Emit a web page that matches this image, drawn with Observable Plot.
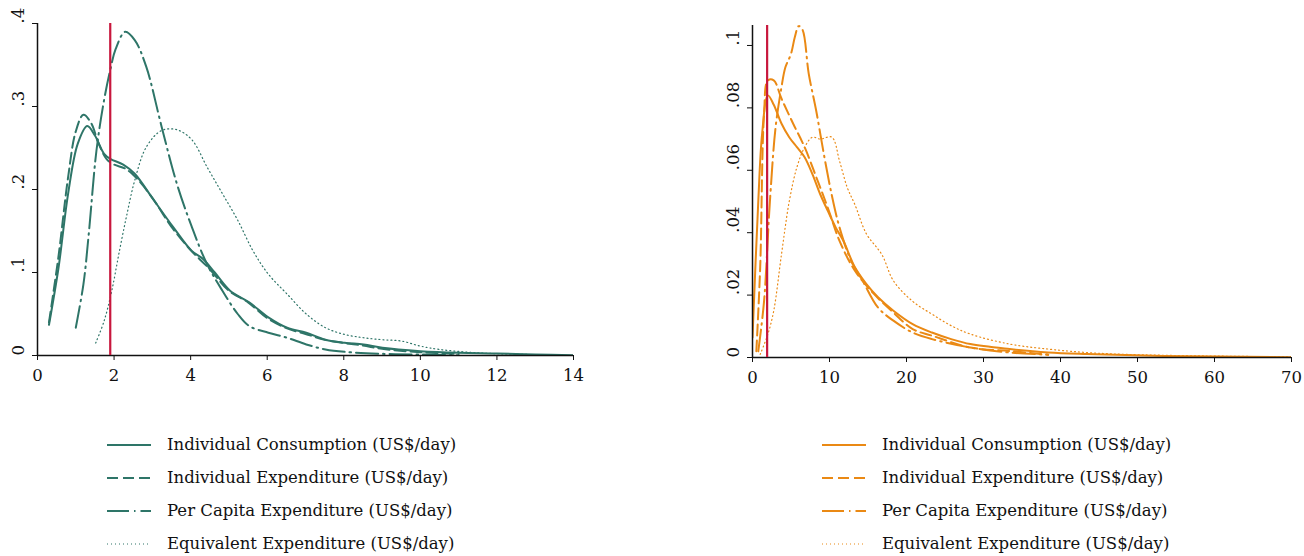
<!DOCTYPE html>
<html><head><meta charset="utf-8">
<script src="https://cdn.jsdelivr.net/npm/d3@7"></script>
<script src="https://cdn.jsdelivr.net/npm/@observablehq/plot@0.6"></script>
<style>
body{margin:0;background:#fff;width:1304px;height:556px;overflow:hidden;font-family:"DejaVu Serif",serif;position:relative}
#left{position:absolute;left:0;top:0;}
#right{position:absolute;left:652px;top:0;}
.legend{position:absolute;font-size:16.5px;color:#111;font-family:"DejaVu Serif",serif}
.row{height:33px;display:flex;align-items:center}
.row svg{margin-right:16px;flex:none}
</style></head><body>
<div id="left"></div><div id="right"></div>
<div class="legend" id="legL" style="left:107px;top:428px"></div>
<div class="legend" id="legR" style="left:822px;top:428px"></div>
<script>
// ---- labels ----
const seriesNames = [
  "Individual Consumption (US$/day)",
  "Individual Expenditure (US$/day)",
  "Per Capita Expenditure (US$/day)",
  "Equivalent Expenditure (US$/day)"
];
const povertyLine = 1.9;

// ---- left panel (teal) ----
const xTicksL = [0, 2, 4, 6, 8, 10, 12, 14];
const yTicksL = [0, 0.1, 0.2, 0.3, 0.4];
const L_cons_x = [0.3, 0.55, 0.8, 1.05, 1.3, 1.5, 1.74, 1.9, 2.24, 2.54, 3.04, 3.54, 4.03, 4.33, 4.63, 5.03, 5.53, 6.03, 6.52, 7.02, 7.52, 8.02, 8.52, 9.01, 10, 11, 12, 13, 14];
const L_cons_y = [0.037, 0.106, 0.195, 0.255, 0.2765, 0.265, 0.243, 0.237, 0.23, 0.219, 0.187, 0.155, 0.126, 0.116, 0.1, 0.078, 0.064, 0.046, 0.0335, 0.0274, 0.019, 0.0153, 0.0133, 0.0093, 0.0052, 0.0032, 0.0024, 0.0012, 0.0004];
const L_iexp_x = [0.3, 0.55, 0.8, 1.0, 1.2, 1.4, 1.6, 1.8, 2.0, 2.3, 2.6, 3.0, 3.5, 4.0, 4.5, 5.0, 5.5, 6.0, 6.5, 7.0, 7.5, 8.0, 8.5, 9.0, 10, 11];
const L_iexp_y = [0.04, 0.12, 0.215, 0.27, 0.29, 0.28, 0.255, 0.237, 0.23, 0.225, 0.213, 0.19, 0.155, 0.127, 0.104, 0.078, 0.064, 0.045, 0.033, 0.026, 0.019, 0.015, 0.012, 0.008, 0.004, 0.002];
const L_pc_x = [1.0, 1.2, 1.34, 1.54, 1.74, 1.9, 2.04, 2.29, 2.54, 2.84, 3.24, 3.64, 4.03, 4.43, 4.83, 5.23, 5.53, 6.03, 6.52, 7.02, 7.52, 8.02, 9.01, 10, 11];
const L_pc_y = [0.0335, 0.086, 0.147, 0.247, 0.308, 0.344, 0.369, 0.39, 0.38, 0.348, 0.276, 0.207, 0.155, 0.11, 0.078, 0.05, 0.0355, 0.0274, 0.0214, 0.0133, 0.0073, 0.0044, 0.002, 0.0012, 0.0004];
const L_eq_x = [1.52, 1.74, 1.94, 2.14, 2.34, 2.54, 2.84, 3.24, 3.64, 4.03, 4.43, 4.83, 5.23, 5.63, 6.03, 6.52, 7.02, 7.52, 8.02, 8.52, 9.01, 9.51, 10.0, 10.5, 11.5, 12.5, 13.5];
const L_eq_y = [0.015, 0.0416, 0.078, 0.126, 0.171, 0.211, 0.251, 0.271, 0.272, 0.26, 0.227, 0.195, 0.163, 0.126, 0.098, 0.074, 0.05, 0.0335, 0.0254, 0.0214, 0.019, 0.0174, 0.0113, 0.0073, 0.0032, 0.0016, 0.0004];

// ---- right panel (orange) ----
const xTicksR = [0, 10, 20, 30, 40, 50, 60, 70];
const yTicksR = [0, 0.02, 0.04, 0.06, 0.08, 0.1];
const R_cons_x = [0, 0.75, 1.25, 2.0, 2.76, 3.76, 4.77, 5.77, 6.77, 7.78, 8.78, 9.78, 10.8, 11.8, 13.3, 14.8, 16.3, 18.3, 20.8, 23.3, 25.8, 28.3, 33.4, 38.4, 43.4, 53.4, 70];
const R_cons_y = [0.0064, 0.05, 0.0717, 0.084, 0.081, 0.075, 0.0706, 0.0674, 0.0642, 0.0588, 0.0524, 0.047, 0.0417, 0.0374, 0.0289, 0.0235, 0.0193, 0.015, 0.0107, 0.008, 0.0059, 0.0043, 0.0027, 0.0016, 0.0011, 0.0005, 0.0001];
const R_iexp_x = [0.5, 1.0, 1.5, 2.0, 2.76, 3.76, 5.27, 6.77, 8.28, 9.78, 11.3, 13.3, 15.8, 18.3, 20.8, 23.3, 28.3, 33.4, 38.4];
const R_iexp_y = [0.002, 0.029, 0.078, 0.0888, 0.0888, 0.083, 0.075, 0.0674, 0.0578, 0.048, 0.0374, 0.0278, 0.0203, 0.0144, 0.0091, 0.007, 0.0032, 0.0021, 0.0009];
const R_pc_x = [0.75, 1.5, 2.26, 3.0, 3.76, 4.27, 5.0, 5.5, 6.0, 6.5, 7.3, 8.28, 9.28, 10.3, 11.3, 12.8, 14.3, 16.3, 18.3, 20.8, 23.3, 28.3, 33.4, 38.4];
const R_pc_y = [0.002, 0.018, 0.05, 0.0738, 0.0866, 0.093, 0.0973, 0.1027, 0.1062, 0.105, 0.091, 0.079, 0.065, 0.052, 0.0417, 0.031, 0.0246, 0.016, 0.0118, 0.008, 0.0059, 0.0032, 0.0016, 0.0009];
const R_eq_x = [1.0, 2.0, 2.76, 3.76, 4.77, 5.77, 6.77, 7.78, 8.78, 10.3, 11.3, 12.3, 13.3, 14.8, 16.8, 18.3, 20.8, 23.3, 25.8, 28.3, 33.4, 38.4, 43.4, 48.4, 58.6, 70];
const R_eq_y = [0.001, 0.0075, 0.015, 0.033, 0.05, 0.061, 0.0674, 0.0706, 0.07, 0.0706, 0.063, 0.0545, 0.049, 0.0396, 0.033, 0.0246, 0.018, 0.0139, 0.0102, 0.0075, 0.0043, 0.0027, 0.0016, 0.001, 0.0005, 0.0002];

// ---- styles ----
const teal = "#2e7568", orange = "#ea8914", red = "#c8173d";
const styles = [
  {dash: null, width: 2},
  {dash: "11,5", width: 2},
  {dash: "22,5,1.5,5", width: 2},
  {dash: "1,3", width: 1.2}
];

function zip(xs, ys) { return xs.map((x, i) => ({x, y: ys[i]})); }
const leftData = [zip(L_cons_x, L_cons_y), zip(L_iexp_x, L_iexp_y), zip(L_pc_x, L_pc_y), zip(L_eq_x, L_eq_y)];
const rightData = [zip(R_cons_x, R_cons_y), zip(R_iexp_x, R_iexp_y), zip(R_pc_x, R_pc_y), zip(R_eq_x, R_eq_y)];

const fmt = d => d === 0 ? "0" : String(+d.toFixed(4)).replace(/^0\./, ".");

function panel(data, color, xTicks, yTicks, xDomain, yDomain, m, w) {
  return Plot.plot({
    width: w, height: 400,
    marginLeft: m.l, marginRight: m.r, marginTop: m.t, marginBottom: m.b,
    x: {domain: xDomain, label: null},
    y: {domain: yDomain, label: null},
    style: {fontFamily: "DejaVu Serif", fontSize: "16px", color: "#111", background: "#fff"},
    marks: [
      Plot.axisX({ticks: xTicks, tickSize: 5, tickPadding: 9, tickFormat: d => String(d), fontSize: 16.5, label: null}),
      Plot.axisY({ticks: yTicks, tickSize: 5, tickFormat: () => "", label: null}),
      Plot.text(yTicks, {y: d => d, frameAnchor: "left", dx: -19, rotate: -90, text: fmt, fontSize: 16.5, fill: "#111"}),
      ...data.map((s, i) => Plot.line(s, {x: "x", y: "y", stroke: color, strokeWidth: styles[i].width, strokeDasharray: styles[i].dash, curve: "catmull-rom", clip: true})),
      Plot.ruleX([0], {stroke: "#111", strokeWidth: 1.5}),
      Plot.ruleY([0], {stroke: "#111", strokeWidth: 1.5}),
      Plot.ruleX([povertyLine], {stroke: red, strokeWidth: 2.2})
    ]
  });
}

document.getElementById("left").append(panel(leftData, teal, xTicksL, yTicksL, [0, 14], [0, 0.4], {l: 37, r: 27, t: 23, b: 45}, 600));
document.getElementById("right").append(panel(rightData, orange, xTicksR, yTicksR, [0, 70], [0, 0.1064], {l: 100, r: 13, t: 25, b: 43}, 652));

function legend(id, color) {
  const el = document.getElementById(id);
  seriesNames.forEach((name, i) => {
    const row = document.createElement("div");
    row.className = "row";
    const st = styles[i];
    row.innerHTML = `<svg width="44" height="6"><line x1="0" x2="44" y1="3" y2="3" stroke="${color}" stroke-width="${st.width}" ${st.dash ? `stroke-dasharray="${st.dash}"` : ""}/></svg><span>${name}</span>`;
    el.append(row);
  });
}
legend("legL", teal);
legend("legR", orange);
</script></body></html>
